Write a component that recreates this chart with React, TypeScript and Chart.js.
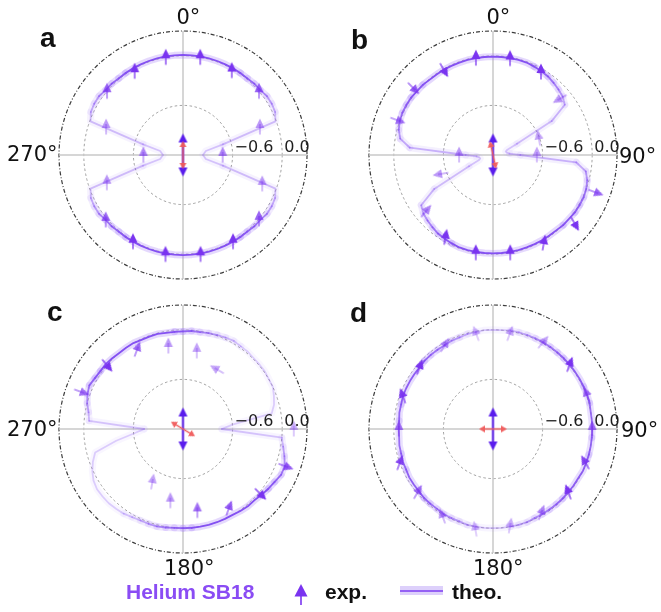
import React, { useEffect, useRef } from 'react';
import { Chart, registerables } from 'chart.js';

Chart.register(...registerables);

// Radial axis: centre -1.2, rim 0.3
const radialMin = -1.2;
const radialMax = 0.3;
const gridValues = [-1.2, -0.6, 0.0, 0.3];
const tickTextValues = [-0.6, 0.0];
const tickTextLabels = ['\u22120.6', '0.0'];

// theory curves are sampled every 5 degrees, clockwise from the top
const ANGLE_STEP = 5;
const angleLabels = Array.from({ length: 360 / ANGLE_STEP }, (_, i) => `${i * ANGLE_STEP}°`);

// measured directions
const markerAngles = [10, 30, 50, 70, 90, 110, 130, 150, 170, 190, 210, 230, 250, 270, 290, 310, 330, 350];

// ---- panel a ----
const theoryA = [
  0.01, 0.01, 0.01, 0.01, 0.01, 0.01, 0.01, 0.01, 0.01, 0.02,
  0.02, 0.04, 0.04, 0.03, -0.01, -0.70, -0.92, -0.94, -0.96, -0.94,
  -0.92, -0.70, -0.01, 0.03, 0.04, 0.04, 0.02, 0.02, 0.01, 0.01,
  0.01, 0.01, 0.01, 0.01, 0.01, 0.01, 0.01, 0.01, 0.01, 0.01,
  0.01, 0.01, 0.01, 0.01, 0.01, 0.02, 0.02, 0.04, 0.04, 0.03,
  -0.01, -0.70, -0.92, -0.94, -0.96, -0.94, -0.92, -0.70, -0.01, 0.03,
  0.04, 0.04, 0.02, 0.02, 0.01, 0.01, 0.01, 0.01, 0.01, 0.01,
  0.01, 0.01,
];
const weightA = [1, 1, 1, 1, 0.9, 0.7, 0.45, 0.35, 0.3, 0.3, 0.3, 0.35, 0.45, 0.7, 0.9, 1, 1, 1, 1, 1, 1, 1, 0.9, 0.7, 0.45, 0.35, 0.3, 0.3, 0.3, 0.35, 0.45, 0.7, 0.9, 1, 1, 1];
const expA = [0.0, -0.02, 0.0, -0.21, -0.72, -0.18, 0.0, 0.01, 0.02, 0.02, 0.01, 0.02, -0.22, -0.72, -0.21, 0.0, -0.03, 0.0];
const expAlphaA = [1, 1, 0.75, 0.5, 0.6, 0.5, 0.75, 1, 1, 1, 1, 0.75, 0.5, 0.6, 0.5, 0.75, 1, 1];
const expRotA = [0, 0, 0, 0, 0, 0, 0, 0, 0, 0, 0, 0, 0, 0, 0, 0, 0, 0];

// ---- panel b ----
const theoryB = [
  -0.01, -0.01, -0.01, -0.01, -0.01, -0.02, -0.03, -0.04, -0.06, -0.08,
  -0.10, -0.14, -0.38, -0.88, -1.02, -1.04, -1.03, -1.00, -0.87, -0.19,
  -0.06, -0.02, 0.00, 0.01, 0.01, 0.01, 0.00, 0.00, -0.01, -0.01,
  -0.01, -0.01, -0.01, -0.01, -0.01, -0.01, -0.01, -0.01, -0.01, -0.01,
  -0.01, -0.02, -0.03, -0.04, -0.06, -0.08, -0.10, -0.14, -0.38, -0.88,
  -1.02, -1.04, -1.03, -1.00, -0.87, -0.19, -0.06, -0.02, 0.00, 0.01,
  0.01, 0.01, 0.00, 0.00, -0.01, -0.01, -0.01, -0.01, -0.01, -0.01,
  -0.01, -0.01,
];
const weightB = [1, 1, 1, 0.9, 0.7, 0.5, 0.35, 0.3, 0.3, 0.35, 0.5, 0.7, 0.85, 0.95, 1, 1, 1, 1, 1, 1, 1, 0.9, 0.7, 0.5, 0.35, 0.3, 0.3, 0.35, 0.5, 0.7, 0.85, 0.95, 1, 1, 1, 1];
const expB = [-0.015, -0.04, -0.14, -0.61, -0.67, 0.12, 0.09, 0.03, 0.0, 0.0, -0.05, -0.14, -0.53, -0.79, 0.03, 0.06, -0.01, -0.01];
const expAlphaB = [1, 1, 0.5, 0.45, 0.45, 0.75, 1, 1, 1, 1, 1, 0.6, 0.5, 0.5, 0.65, 0.8, 1, 1];
const expRotB = [0, 0, -120, -10, 0, 110, 150, 10, 0, 0, 10, 40, -100, 0, 110, 135, 150, 0];

// ---- panel c ----
const theoryC = [
  -0.02, -0.01, -0.01, 0.00, 0.01, 0.02, 0.03, 0.02, 0.02, 0.01,
  0.01, 0.01, 0.00, 0.00, -0.03, -0.06, -0.11, -0.60, -0.73, 0.00,
  0.03, 0.07, 0.11, 0.11, 0.08, 0.06, 0.04, 0.02, 0.02, 0.01,
  0.00, 0.00, 0.00, 0.00, 0.00, 0.00, 0.00, 0.00, 0.01, 0.02,
  0.02, 0.02, 0.03, 0.05, 0.06, 0.07, 0.07, 0.07, 0.05, 0.01,
  -0.04, -0.10, -0.38, -0.61, -0.73, -0.06, -0.04, 0.00, 0.03, 0.05,
  0.03, 0.02, 0.02, 0.01, 0.00, 0.00, 0.00, -0.01, -0.01, -0.01,
  -0.02, -0.02,
];
const weightC = [0.9, 0.7, 0.5, 0.3, 0.25, 0.25, 0.25, 0.25, 0.25, 0.25, 0.4, 0.7, 0.9, 1, 1, 1, 1, 1, 0.9, 0.7, 0.5, 0.3, 0.25, 0.25, 0.25, 0.25, 0.25, 0.25, 0.4, 0.7, 0.9, 1, 1, 1, 1, 1];
const expC = [-0.24, -0.37, null, null, 0.14, 0.12, 0.02, -0.09, -0.2, -0.32, -0.46, null, null, null, 0.11, 0.0, -0.09, -0.18];
const expAlphaC = [0.45, 0.45, 0, 0, 0.4, 0.8, 1, 0.8, 0.7, 0.5, 0.45, 0, 0, 0, 0.7, 1, 0.75, 0.5];
const expRotC = [0, -60, 0, 0, 0, 110, 135, 20, 0, 0, 10, 0, 0, 0, 110, 140, 20, 0];

// ---- panel d ----
const theoryD = [
  0.00, 0.00, 0.01, 0.01, 0.01, 0.01, 0.01, 0.01, 0.01, 0.01,
  0.01, 0.01, 0.01, 0.01, 0.01, 0.01, 0.00, 0.00, 0.00, 0.00,
  0.00, 0.00, 0.00, 0.00, -0.01, -0.01, -0.01, -0.01, -0.01, -0.01,
  -0.01, -0.01, 0.00, 0.00, 0.00, 0.00, 0.00, 0.00, 0.00, 0.00,
  -0.01, -0.01, -0.01, -0.02, -0.02, -0.02, -0.03, -0.03, -0.03, -0.04,
  -0.04, -0.05, -0.05, -0.06, -0.06, -0.06, -0.05, -0.05, -0.04, -0.04,
  -0.04, -0.04, -0.04, -0.03, -0.03, -0.03, -0.03, -0.02, -0.02, -0.01,
  -0.01, 0.00,
];
const weightD = [0.25, 0.35, 0.5, 0.65, 0.8, 0.9, 0.9, 0.85, 0.8, 0.8, 0.85, 0.9, 0.9, 0.9, 0.8, 0.65, 0.5, 0.35, 0.25, 0.35, 0.5, 0.65, 0.8, 0.9, 0.9, 0.85, 0.8, 0.8, 0.85, 0.9, 0.9, 0.9, 0.8, 0.65, 0.5, 0.35];
const expD = [-0.03, 0.01, 0.01, 0.01, 0.0, -0.01, -0.01, -0.03, -0.01, 0.03, 0.02, -0.01, 0.0, -0.06, -0.04, -0.04, -0.03, -0.03];
const expAlphaD = [0.4, 0.45, 1, 0.7, 0.7, 0.9, 1, 0.6, 0.4, 0.35, 0.5, 0.7, 0.9, 0.7, 0.95, 1, 0.55, 0.35];
const expRotD = [20, 40, 20, -20, 0, -30, -20, 20, 10, -10, -20, 30, 20, 0, -20, 20, 30, -20];

// driving-field polarisation (red) per panel; probe (violet) is vertical
const driverAngles = [0, -13, -59, 90];
const probeAngle = 0;

const FONT = '"Liberation Sans", Arial, Helvetica, sans-serif';
const PLOT_FONT = '"DejaVu Sans", Verdana, sans-serif';
const MARKER_RGB = '122, 52, 240';

function markerGlyph(alpha: number) {
  const c = document.createElement('canvas');
  c.width = 22;
  c.height = 22;
  const g = c.getContext('2d')!;
  const col = `rgba(${MARKER_RGB}, ${alpha})`;
  g.fillStyle = col;
  g.strokeStyle = col;
  g.lineWidth = 1.3;
  g.beginPath();
  g.moveTo(11, 2.5);
  g.lineTo(15.5, 12);
  g.lineTo(6.5, 12);
  g.closePath();
  g.fill();
  g.beginPath();
  g.moveTo(11, 8);
  g.lineTo(11, 18.5);
  g.stroke();
  return c;
}

function doubleArrow(color: string, len: number, headLen: number, headHalf: number, lw: number) {
  const c = document.createElement('canvas');
  const w = Math.ceil(headHalf * 2 + 2);
  const h = len + 2;
  c.width = w;
  c.height = h;
  const g = c.getContext('2d')!;
  const cx = w / 2;
  g.strokeStyle = color;
  g.fillStyle = color;
  g.lineWidth = lw;
  g.beginPath();
  g.moveTo(cx, 1 + headLen * 0.8);
  g.lineTo(cx, h - 1 - headLen * 0.8);
  g.stroke();
  g.beginPath();
  g.moveTo(cx, 1);
  g.lineTo(cx + headHalf, 1 + headLen);
  g.lineTo(cx - headHalf, 1 + headLen);
  g.closePath();
  g.fill();
  g.beginPath();
  g.moveTo(cx, h - 1);
  g.lineTo(cx + headHalf, h - 1 - headLen);
  g.lineTo(cx - headHalf, h - 1 - headLen);
  g.closePath();
  g.fill();
  return c;
}

function intensityAt(weights: number[], deg: number) {
  const x = deg / 10;
  const i0 = Math.floor(x) % weights.length;
  const i1 = (i0 + 1) % weights.length;
  const f = x - Math.floor(x);
  return weights[i0] * (1 - f) + weights[i1] * f;
}

// split the closed theory curve into runs of equal intensity so each run gets its own opacity
function theoryDatasets(values: number[], weights: number[]) {
  const n = values.length;
  const level = values.map((_, i) => Math.round(intensityAt(weights, i * ANGLE_STEP + ANGLE_STEP / 2) * 20) / 20);
  const out: any[] = [];
  let s0 = 0;
  while (s0 < n && level[s0] === level[(s0 + n - 1) % n]) s0++;
  if (s0 === n) s0 = 0;
  let k = 0;
  while (k < n) {
    const lv = level[(s0 + k) % n];
    const data: (number | null)[] = new Array(n).fill(null);
    while (k < n && level[(s0 + k) % n] === lv) {
      const s = (s0 + k) % n;
      data[s] = values[s];
      data[(s + 1) % n] = values[(s + 1) % n];
      k++;
    }
    out.push({
      data,
      borderColor: `rgba(168, 130, 250, ${0.3 * lv})`,
      borderWidth: 7,
      order: 4,
    });
    out.push({
      data: data.slice(),
      borderColor: `rgba(132, 80, 242, ${lv})`,
      borderWidth: 1.8,
      order: 3,
    });
  }
  return out;
}

function markerDataset(exp: (number | null)[], alphas: number[], rots: number[]) {
  const n = angleLabels.length;
  const data: (number | null)[] = new Array(n).fill(null);
  const styles: any[] = new Array(n).fill('circle');
  const rot: number[] = new Array(n).fill(0);
  markerAngles.forEach((a, k) => {
    const v = exp[k];
    if (v === null || v === undefined) return;
    const i = a / ANGLE_STEP;
    data[i] = v;
    styles[i] = markerGlyph(alphas[k]);
    rot[i] = rots[k];
  });
  return {
    data,
    showLine: false,
    pointRadius: 5,
    pointStyle: (ctx: any) => styles[ctx.dataIndex],
    pointRotation: (ctx: any) => rot[ctx.dataIndex],
    order: 2,
  };
}

function centreDataset(glyph: HTMLCanvasElement, angle: number, order: number) {
  const data: (number | null)[] = new Array(angleLabels.length).fill(null);
  data[0] = radialMin;
  return {
    data,
    showLine: false,
    pointRadius: 5,
    pointStyle: glyph,
    pointRotation: angle,
    order,
  };
}

const tickTextPlugin = {
  id: 'radialTickText',
  afterDatasetsDraw(chart: any) {
    const s = chart.scales.r;
    const ctx = chart.ctx;
    ctx.save();
    ctx.font = `16px ${PLOT_FONT}`;
    ctx.fillStyle = '#1e1e1e';
    ctx.textAlign = 'left';
    ctx.textBaseline = 'alphabetic';
    tickTextValues.forEach((v, i) => {
      const d = s.getDistanceFromCenterForValue(v);
      ctx.fillText(tickTextLabels[i], s.xCenter + d + 2, s.yCenter - 3);
    });
    ctx.restore();
  },
};

type PanelProps = {
  theory: number[];
  weight: number[];
  exp: (number | null)[];
  expAlpha: number[];
  expRot: number[];
  driverAngle: number;
  cx: number;
  cy: number;
};

const SIZE = 264;
const PAD = 8;
const HALF = SIZE / 2;

function PolarPanel({ theory, weight, exp, expAlpha, expRot, driverAngle, cx, cy }: PanelProps) {
  const ref = useRef<HTMLCanvasElement>(null);
  useEffect(() => {
    const datasets = [
      centreDataset(doubleArrow('rgba(240, 92, 92, 0.95)', 28, 6, 3.5, 1.5), driverAngle, 0),
      centreDataset(doubleArrow('#5a1ded', 43, 9, 4.5, 2), probeAngle, 1),
      markerDataset(exp, expAlpha, expRot),
      ...theoryDatasets(theory, weight),
    ].map((d: any) => ({
      fill: false,
      tension: 0,
      pointRadius: 0,
      pointHitRadius: 0,
      borderCapStyle: 'round',
      borderJoinStyle: 'round',
      ...d,
    }));
    const chart = new Chart(ref.current!, {
      type: 'radar',
      data: { labels: angleLabels, datasets },
      options: {
        responsive: false,
        maintainAspectRatio: false,
        animation: false,
        events: [],
        layout: { padding: PAD },
        plugins: { legend: { display: false }, tooltip: { enabled: false } },
        scales: {
          r: {
            min: radialMin,
            max: radialMax,
            startAngle: 0,
            afterBuildTicks: (s: any) => {
              s.ticks = gridValues.map((v) => ({ value: v }));
            },
            ticks: { display: false, stepSize: 0.3 },
            pointLabels: { display: false },
            grid: {
              circular: true,
              color: (ctx: any) =>
                ctx.tick.value === radialMax ? '#3c3c3c' : ctx.tick.value === radialMin ? 'rgba(0,0,0,0)' : '#8a8a8a',
              lineWidth: (ctx: any) => (ctx.tick.value === radialMax ? 1.2 : 0.8),
            },
            border: {
              dash: (ctx: any) => (ctx.tick && ctx.tick.value === radialMax ? [4, 2, 1, 2] : [2.5, 2.5]),
            },
            angleLines: {
              color: (ctx: any) => (ctx.index % (90 / ANGLE_STEP) === 0 ? '#c9c9c9' : 'rgba(0,0,0,0)'),
              lineWidth: 1.5,
            },
          },
        },
      } as any,
      plugins: [tickTextPlugin],
    } as any);
    return () => chart.destroy();
  }, []);
  return (
    <canvas
      ref={ref}
      width={SIZE}
      height={SIZE}
      style={{ position: 'absolute', left: cx - HALF, top: cy - HALF, width: SIZE, height: SIZE }}
    />
  );
}

function Txt({ x, baseline, size, bold, color, family, children }: any) {
  return (
    <div
      style={{
        position: 'absolute',
        left: x,
        top: baseline - size * 0.8465,
        fontSize: size,
        lineHeight: `${size}px`,
        fontWeight: bold ? 700 : 400,
        color: color || '#111',
        whiteSpace: 'nowrap',
        fontFamily: family || FONT,
      }}
    >
      {children}
    </div>
  );
}

export default function App() {
  const panels: PanelProps[] = [
    { theory: theoryA, weight: weightA, exp: expA, expAlpha: expAlphaA, expRot: expRotA, driverAngle: driverAngles[0], cx: 183, cy: 155 },
    { theory: theoryB, weight: weightB, exp: expB, expAlpha: expAlphaB, expRot: expRotB, driverAngle: driverAngles[1], cx: 493, cy: 155 },
    { theory: theoryC, weight: weightC, exp: expC, expAlpha: expAlphaC, expRot: expRotC, driverAngle: driverAngles[2], cx: 183, cy: 429 },
    { theory: theoryD, weight: weightD, exp: expD, expAlpha: expAlphaD, expRot: expRotD, driverAngle: driverAngles[3], cx: 493, cy: 429 },
  ];
  const ang = 21;
  return (
    <div style={{ position: 'absolute', left: 0, top: 0, width: 661, height: 612, background: '#fff', overflow: 'hidden' }}>
      {panels.map((p, i) => (
        <PolarPanel key={i} {...p} />
      ))}

      {/* panel letters */}
      <Txt x={40} baseline={48} size={28} bold>a</Txt>
      <Txt x={351} baseline={50} size={28} bold>b</Txt>
      <Txt x={47} baseline={322} size={28} bold>c</Txt>
      <Txt x={350} baseline={323} size={28} bold>d</Txt>

      {/* angle labels */}
      <Txt x={176.5} baseline={25} size={ang} family={PLOT_FONT}>0°</Txt>
      <Txt x={7} baseline={162} size={ang} family={PLOT_FONT}>270°</Txt>
      <Txt x={486.5} baseline={25} size={ang} family={PLOT_FONT}>0°</Txt>
      <Txt x={619} baseline={164} size={ang} family={PLOT_FONT}>90°</Txt>
      <Txt x={7} baseline={436.5} size={ang} family={PLOT_FONT}>270°</Txt>
      <Txt x={164} baseline={576} size={ang} family={PLOT_FONT}>180°</Txt>
      <Txt x={621} baseline={438} size={ang} family={PLOT_FONT}>90°</Txt>
      <Txt x={473} baseline={576} size={ang} family={PLOT_FONT}>180°</Txt>

      {/* legend */}
      <Txt x={126} baseline={599} size={21} bold color="#8a4cf4">Helium SB18</Txt>
      <svg width="16" height="23" viewBox="0 0 16 23" style={{ position: 'absolute', left: 293, top: 583 }}>
        <polygon points="8,1 14.5,13.5 1.5,13.5" fill={`rgb(${MARKER_RGB})`} />
        <line x1="8" y1="9" x2="8" y2="22" stroke={`rgb(${MARKER_RGB})`} strokeWidth="1.6" />
      </svg>
      <Txt x={325} baseline={599} size={21} bold>exp.</Txt>
      <div style={{ position: 'absolute', left: 400, top: 586, width: 43, height: 9, background: '#ddd0fb' }}>
        <div style={{ position: 'absolute', left: 0, top: 3.5, width: 43, height: 2, background: '#9561f4' }} />
      </div>
      <Txt x={452} baseline={599} size={21} bold>theo.</Txt>
    </div>
  );
}
